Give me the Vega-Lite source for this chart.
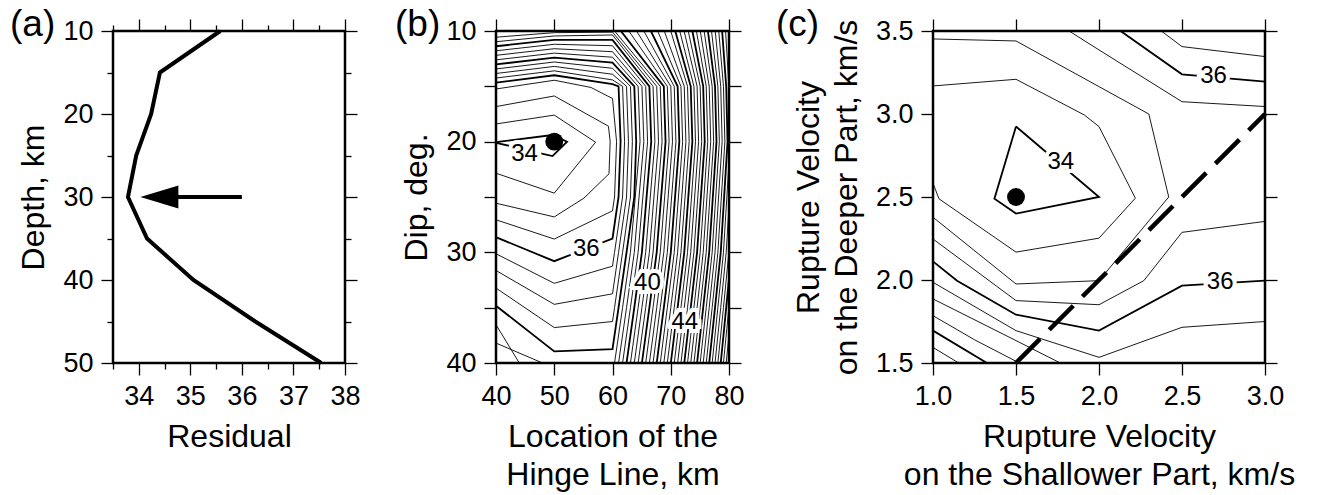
{
  "$schema": "https://vega.github.io/schema/vega-lite/v6.json",
  "background": "white",
  "padding": {"left": 8, "top": 4, "right": 4, "bottom": 4},
  "bounds": "flush",
  "spacing": 0,
  "config": {
    "font": "Liberation Sans",
    "view": {"stroke": "black", "strokeWidth": 2.5},
    "axis": {"domain": false, "grid": false, "tickColor": "black", "tickWidth": 1.3, "tickSize": 12, "labelColor": "black", "labelFont": "Liberation Sans", "labelFontSize": 27, "titleFont": "Liberation Sans", "titleFontSize": 32, "titleFontWeight": "normal", "titleColor": "black", "labelPadding": 8, "titlePadding": 12, "labelFlush": false, "labelOverlap": false, "titleLineHeight": 38},
    "title": {"font": "Liberation Sans", "fontSize": 37, "fontWeight": "normal", "color": "black", "anchor": "start", "frame": "group", "offset": 0, "baseline": "alphabetic"}
  },
  "datasets": {
    "resid": [{"r":35.58,"d":10},{"r":34.41,"d":15},{"r":34.24,"d":20},{"r":33.95,"d":25},{"r":33.79,"d":30},{"r":34.16,"d":35},{"r":35.06,"d":40},{"r":36.26,"d":45},{"r":37.54,"d":50}],
    "arrow": [{"x1":34.7,"x2":36.0,"hx":34.4,"y":30}],
    "bT": [
      {"k":"34.5","x":40,"y":18.4},{"k":"34.5","x":50,"y":17.6},{"k":"34.5","x":57.1,"y":20.05},{"k":"34.5","x":50,"y":24.65},{"k":"34.5","x":40,"y":22.85},
      {"k":"35","x":40,"y":16.83},{"k":"35","x":50,"y":15.87},{"k":"35","x":59.3,"y":18.6},{"k":"35","x":59.6,"y":20},{"k":"35","x":59.4,"y":22.9},{"k":"35","x":55.1,"y":25.1},{"k":"35","x":50,"y":26.8},{"k":"35","x":40,"y":25.56},
      {"k":"35.5","x":40,"y":15.24},{"k":"35.5","x":50,"y":14.45},{"k":"35.5","x":56.3,"y":15.1},{"k":"35.5","x":60,"y":16.1},{"k":"35.5","x":60.7,"y":20},{"k":"35.5","x":60.35,"y":25},{"k":"35.5","x":60,"y":26.25},{"k":"35.5","x":50,"y":28.8},{"k":"35.5","x":40,"y":27.06},
      {"k":"36.5","x":40,"y":14.25},{"k":"36.5","x":50,"y":13.6},{"k":"36.5","x":60,"y":14.42},{"k":"36.5","x":61.73,"y":15},{"k":"36.5","x":62.07,"y":20},{"k":"36.5","x":61.73,"y":25},{"k":"36.5","x":60.35,"y":30},{"k":"36.5","x":60,"y":31.25},{"k":"36.5","x":50,"y":32.8},{"k":"36.5","x":40,"y":30.13},
      {"k":"37","x":40,"y":13.84},{"k":"37","x":50,"y":13.2},{"k":"37","x":60,"y":13.91},{"k":"37","x":62.41,"y":15},{"k":"37","x":62.74,"y":20},{"k":"37","x":62.41,"y":25},{"k":"37","x":61.04,"y":30},{"k":"37","x":60,"y":33.75},{"k":"37","x":50,"y":34.7},{"k":"37","x":40,"y":31.64},
      {"k":"37.5","x":40,"y":13.43},{"k":"37.5","x":50,"y":12.8},{"k":"37.5","x":60,"y":13.37},{"k":"37.5","x":63.08,"y":15},{"k":"37.5","x":63.41,"y":20},{"k":"37.5","x":63.08,"y":25},{"k":"37.5","x":61.73,"y":30},{"k":"37.5","x":60.35,"y":35},{"k":"37.5","x":60,"y":36.25},{"k":"37.5","x":50,"y":36.8},{"k":"37.5","x":40,"y":33.23},
      {"k":"38.5","x":40,"y":12.61},{"k":"38.5","x":50,"y":12.0},{"k":"38.5","x":60,"y":12.37},{"k":"38.5","x":64.4,"y":15},{"k":"38.5","x":64.73,"y":20},{"k":"38.5","x":63.08,"y":30},{"k":"38.5","x":61.73,"y":35},{"k":"38.5","x":60.35,"y":40},
      {"k":"38.5b","x":40,"y":36.54},{"k":"38.5b","x":44,"y":40},
      {"k":"39","x":40,"y":12.2},{"k":"39","x":50,"y":11.6},{"k":"39","x":60,"y":11.87},{"k":"39","x":65.05,"y":15},{"k":"39","x":65.38,"y":20},{"k":"39","x":63.74,"y":30},{"k":"39","x":62.41,"y":35},{"k":"39","x":61.04,"y":40},
      {"k":"39b","x":40,"y":38.2},{"k":"39b","x":48,"y":40},
      {"k":"39.5","x":40,"y":11.79},{"k":"39.5","x":50,"y":11.2},{"k":"39.5","x":60,"y":11.33},{"k":"39.5","x":65.7,"y":15},{"k":"39.5","x":66.02,"y":20},{"k":"39.5","x":64.4,"y":30},{"k":"39.5","x":63.08,"y":35},{"k":"39.5","x":61.73,"y":40},
      {"k":"40.5","x":40,"y":10.97},{"k":"40.5","x":50,"y":10.45},{"k":"40.5","x":60,"y":10.36},{"k":"40.5","x":66.96,"y":15},{"k":"40.5","x":67.28,"y":20},{"k":"40.5","x":65.7,"y":30},{"k":"40.5","x":64.4,"y":35},{"k":"40.5","x":63.08,"y":40},
      {"k":"41","x":40,"y":10.56},{"k":"41","x":50,"y":10.15},{"k":"41","x":60,"y":10.1},{"k":"41","x":67.59,"y":15},{"k":"41","x":67.9,"y":20},{"k":"41","x":66.33,"y":30},{"k":"41","x":65.05,"y":35},{"k":"41","x":63.74,"y":40},
      {"k":"41.5","x":60.35,"y":10},{"k":"41.5","x":68.2,"y":15},{"k":"41.5","x":68.51,"y":20},{"k":"41.5","x":66.96,"y":30},{"k":"41.5","x":65.7,"y":35},{"k":"41.5","x":64.4,"y":40},
      {"k":"42.5","x":62.8,"y":10},{"k":"42.5","x":69.41,"y":15},{"k":"42.5","x":69.71,"y":20},{"k":"42.5","x":68.2,"y":30},{"k":"42.5","x":66.96,"y":35},{"k":"42.5","x":65.7,"y":40},
      {"k":"43","x":64.13,"y":10},{"k":"43","x":70.01,"y":15},{"k":"43","x":70.3,"y":20},{"k":"43","x":68.81,"y":30},{"k":"43","x":67.59,"y":35},{"k":"43","x":66.33,"y":40},
      {"k":"43.5","x":65.38,"y":10},{"k":"43.5","x":70.6,"y":15},{"k":"43.5","x":70.89,"y":20},{"k":"43.5","x":69.41,"y":30},{"k":"43.5","x":68.2,"y":35},{"k":"43.5","x":66.96,"y":40},
      {"k":"44.5","x":67.76,"y":10},{"k":"44.5","x":71.75,"y":15},{"k":"44.5","x":72.04,"y":20},{"k":"44.5","x":70.6,"y":30},{"k":"44.5","x":69.41,"y":35},{"k":"44.5","x":68.2,"y":40},
      {"k":"45","x":68.89,"y":10},{"k":"45","x":72.32,"y":15},{"k":"45","x":72.6,"y":20},{"k":"45","x":71.18,"y":30},{"k":"45","x":70.01,"y":35},{"k":"45","x":68.81,"y":40},
      {"k":"45.5","x":70.0,"y":10},{"k":"45.5","x":72.88,"y":15},{"k":"45.5","x":73.16,"y":20},{"k":"45.5","x":71.75,"y":30},{"k":"45.5","x":70.6,"y":35},{"k":"45.5","x":69.41,"y":40},
      {"k":"46.5","x":71.54,"y":10},{"k":"46.5","x":73.98,"y":15},{"k":"46.5","x":74.25,"y":20},{"k":"46.5","x":72.88,"y":30},{"k":"46.5","x":71.75,"y":35},{"k":"46.5","x":70.6,"y":40},
      {"k":"47","x":72.29,"y":10},{"k":"47","x":74.52,"y":15},{"k":"47","x":74.78,"y":20},{"k":"47","x":73.43,"y":30},{"k":"47","x":72.32,"y":35},{"k":"47","x":71.18,"y":40},
      {"k":"47.5","x":73.0,"y":10},{"k":"47.5","x":75.05,"y":15},{"k":"47.5","x":75.31,"y":20},{"k":"47.5","x":73.98,"y":30},{"k":"47.5","x":72.88,"y":35},{"k":"47.5","x":71.75,"y":40},
      {"k":"48.5","x":74.4,"y":10},{"k":"48.5","x":76.09,"y":15},{"k":"48.5","x":76.35,"y":20},{"k":"48.5","x":75.05,"y":30},{"k":"48.5","x":73.98,"y":35},{"k":"48.5","x":72.88,"y":40},
      {"k":"49","x":75.07,"y":10},{"k":"49","x":76.6,"y":15},{"k":"49","x":76.86,"y":20},{"k":"49","x":75.57,"y":30},{"k":"49","x":74.52,"y":35},{"k":"49","x":73.43,"y":40},
      {"k":"49.5","x":75.73,"y":10},{"k":"49.5","x":77.11,"y":15},{"k":"49.5","x":77.36,"y":20},{"k":"49.5","x":76.09,"y":30},{"k":"49.5","x":75.05,"y":35},{"k":"49.5","x":73.98,"y":40},
      {"k":"50.5","x":77.0,"y":10},{"k":"50.5","x":78.09,"y":15},{"k":"50.5","x":78.34,"y":20},{"k":"50.5","x":77.11,"y":30},{"k":"50.5","x":76.09,"y":35},{"k":"50.5","x":75.05,"y":40},
      {"k":"51","x":77.63,"y":10},{"k":"51","x":78.58,"y":15},{"k":"51","x":78.82,"y":20},{"k":"51","x":77.6,"y":30},{"k":"51","x":76.6,"y":35},{"k":"51","x":75.57,"y":40},
      {"k":"51.5","x":78.24,"y":10},{"k":"51.5","x":79.05,"y":15},{"k":"51.5","x":79.29,"y":20},{"k":"51.5","x":78.09,"y":30},{"k":"51.5","x":77.11,"y":35},{"k":"51.5","x":76.09,"y":40},
      {"k":"52.5","x":79.41,"y":10},{"k":"52.5","x":79.98,"y":15},{"k":"52.5","x":80.21,"y":20},{"k":"52.5","x":79.05,"y":30},{"k":"52.5","x":78.09,"y":35},{"k":"52.5","x":77.11,"y":40},
      {"k":"53","x":80.44,"y":15},{"k":"53","x":80.66,"y":20},{"k":"53","x":79.52,"y":30},{"k":"53","x":78.58,"y":35},{"k":"53","x":77.6,"y":40},
      {"k":"53.5","x":80.89,"y":15},{"k":"53.5","x":81.11,"y":20},{"k":"53.5","x":79.98,"y":30},{"k":"53.5","x":79.05,"y":35},{"k":"53.5","x":78.09,"y":40},
      {"k":"54.5","x":81.78,"y":15},{"k":"54.5","x":82.0,"y":20},{"k":"54.5","x":80.89,"y":30},{"k":"54.5","x":79.98,"y":35},{"k":"54.5","x":79.05,"y":40},
      {"k":"55","x":82.2,"y":15},{"k":"55","x":82.4,"y":20},{"k":"55","x":81.33,"y":30},{"k":"55","x":80.44,"y":35},{"k":"55","x":79.52,"y":40},
      {"k":"55.5","x":82.7,"y":15},{"k":"55.5","x":82.9,"y":20},{"k":"55.5","x":81.78,"y":30},{"k":"55.5","x":80.89,"y":35},{"k":"55.5","x":79.98,"y":40}
    ],
    "bB": [
      {"k":"34","x":40,"y":20.05},{"k":"34","x":49.7,"y":19.4},{"k":"34","x":52.2,"y":20.0},{"k":"34","x":49.7,"y":21.3},{"k":"34","x":47.5,"y":21.04},{"k":"34","x":42.5,"y":20.4},{"k":"34","x":40,"y":20.1},
      {"k":"36","x":40,"y":14.66},{"k":"36","x":50,"y":14.0},{"k":"36","x":60,"y":14.81},{"k":"36","x":61.04,"y":15},{"k":"36","x":61.39,"y":20},{"k":"36","x":61.04,"y":25},{"k":"36","x":60,"y":28.75},{"k":"36","x":50,"y":30.8},{"k":"36","x":40,"y":28.63},
      {"k":"38","x":40,"y":13.02},{"k":"38","x":50,"y":12.4},{"k":"38","x":60,"y":12.86},{"k":"38","x":63.74,"y":15},{"k":"38","x":64.07,"y":20},{"k":"38","x":63.74,"y":25},{"k":"38","x":62.41,"y":30},{"k":"38","x":61.04,"y":35},{"k":"38","x":60,"y":38.75},{"k":"38","x":50,"y":38.95},{"k":"38","x":40,"y":34.83},
      {"k":"40","x":40,"y":11.38},{"k":"40","x":50,"y":10.8},{"k":"40","x":60,"y":10.81},{"k":"40","x":66.33,"y":15},{"k":"40","x":66.65,"y":20},{"k":"40","x":65.05,"y":30},{"k":"40","x":63.74,"y":35},{"k":"40","x":62.41,"y":40},
      {"k":"42","x":61.43,"y":10},{"k":"42","x":68.81,"y":15},{"k":"42","x":69.11,"y":20},{"k":"42","x":67.59,"y":30},{"k":"42","x":66.33,"y":35},{"k":"42","x":65.05,"y":40},
      {"k":"44","x":66.59,"y":10},{"k":"44","x":71.18,"y":15},{"k":"44","x":71.47,"y":20},{"k":"44","x":70.01,"y":30},{"k":"44","x":68.81,"y":35},{"k":"44","x":67.59,"y":40},
      {"k":"46","x":70.77,"y":10},{"k":"46","x":73.43,"y":15},{"k":"46","x":73.71,"y":20},{"k":"46","x":72.32,"y":30},{"k":"46","x":71.18,"y":35},{"k":"46","x":70.01,"y":40},
      {"k":"48","x":73.71,"y":10},{"k":"48","x":75.57,"y":15},{"k":"48","x":75.83,"y":20},{"k":"48","x":74.52,"y":30},{"k":"48","x":73.43,"y":35},{"k":"48","x":72.32,"y":40},
      {"k":"50","x":76.38,"y":10},{"k":"50","x":77.6,"y":15},{"k":"50","x":77.85,"y":20},{"k":"50","x":76.6,"y":30},{"k":"50","x":75.57,"y":35},{"k":"50","x":74.52,"y":40},
      {"k":"52","x":78.82,"y":10},{"k":"52","x":79.52,"y":15},{"k":"52","x":79.75,"y":20},{"k":"52","x":78.58,"y":30},{"k":"52","x":77.6,"y":35},{"k":"52","x":76.6,"y":40},
      {"k":"54","x":81.33,"y":15},{"k":"54","x":81.56,"y":20},{"k":"54","x":80.44,"y":30},{"k":"54","x":79.52,"y":35},{"k":"54","x":78.58,"y":40}
    ],
    "bL": [{"t":"34","x":44.9,"y":21.1},{"t":"36","x":55.5,"y":29.7},{"t":"40","x":66.0,"y":32.8},{"t":"44","x":72.4,"y":36.3}],
    "bP": [{"x":50,"y":20}],
    "cT": [
      {"k":"34.5","x":1.0,"y":3.169},{"k":"34.5","x":1.5,"y":3.209},{"k":"34.5","x":1.912,"y":2.994},{"k":"34.5","x":2.0,"y":2.924},{"k":"34.5","x":2.219,"y":2.493},{"k":"34.5","x":2.0,"y":2.252},{"k":"34.5","x":1.5,"y":2.168},{"k":"34.5","x":1.036,"y":2.489},{"k":"34.5","x":1.0,"y":2.583},
      {"k":"35","x":1.0,"y":3.452},{"k":"35","x":1.5,"y":3.44},{"k":"35","x":2.3,"y":3.0},{"k":"35","x":2.42,"y":2.5},{"k":"35","x":2.0,"y":1.996},{"k":"35","x":1.5,"y":1.976},{"k":"35","x":1.0,"y":2.378},
      {"k":"35.5u","x":1.82,"y":3.5},{"k":"35.5u","x":2.0,"y":3.386},{"k":"35.5u","x":2.5,"y":3.074},{"k":"35.5u","x":3.0,"y":3.045},
      {"k":"35.5l","x":1.0,"y":2.247},{"k":"35.5l","x":1.5,"y":1.876},{"k":"35.5l","x":2.0,"y":1.851},{"k":"35.5l","x":2.27,"y":1.996},{"k":"35.5l","x":2.5,"y":2.287},{"k":"35.5l","x":3.0,"y":2.353},
      {"k":"36.5u","x":2.375,"y":3.5},{"k":"36.5u","x":2.5,"y":3.406},{"k":"36.5u","x":3.0,"y":3.346},
      {"k":"36.5l","x":1.0,"y":1.986},{"k":"36.5l","x":1.5,"y":1.695},{"k":"36.5l","x":2.0,"y":1.534},{"k":"36.5l","x":2.5,"y":1.715},{"k":"36.5l","x":3.0,"y":1.75},
      {"k":"37","x":1.0,"y":1.886},{"k":"37","x":1.5,"y":1.635},{"k":"37","x":1.767,"y":1.5},
      {"k":"37.5","x":1.0,"y":1.785},{"k":"37.5","x":1.25,"y":1.64},{"k":"37.5","x":1.52,"y":1.5},
      {"k":"38.5","x":1.0,"y":1.594},{"k":"38.5","x":1.155,"y":1.5}
    ],
    "cB": [
      {"k":"34","x":1.5,"y":2.925},{"k":"34","x":2.0,"y":2.5},{"k":"34","x":1.5,"y":2.4},{"k":"34","x":1.37,"y":2.49},{"k":"34","x":1.5,"y":2.925},
      {"k":"36u","x":2.13,"y":3.5},{"k":"36u","x":2.5,"y":3.239},{"k":"36u","x":3.0,"y":3.195},
      {"k":"36l","x":1.0,"y":2.112},{"k":"36l","x":1.145,"y":1.996},{"k":"36l","x":1.5,"y":1.791},{"k":"36l","x":2.0,"y":1.695},{"k":"36l","x":2.5,"y":1.966},{"k":"36l","x":3.0,"y":1.996},
      {"k":"38","x":1.0,"y":1.695},{"k":"38","x":1.325,"y":1.5}
    ],
    "cL": [{"t":"34","x":1.77,"y":2.71},{"t":"36","x":2.69,"y":3.23},{"t":"36","x":2.73,"y":1.99}],
    "cD": [{"x":1.5,"y":1.5},{"x":3.0,"y":3.0}],
    "cP": [{"x":1.5,"y":2.5}]
  },
  "hconcat": [
    {
      "width": 232, "height": 332,
      "title": {"text": "(a)", "dx": -103, "dy": 31},
      "resolve": {"axis": {"x": "independent", "y": "independent"}},
      "layer": [
        {
          "data": {"name": "resid"},
          "mark": {"type": "line", "color": "black", "strokeWidth": 4, "strokeJoin": "miter"},
          "encoding": {
            "x": {"field": "r", "type": "quantitative", "scale": {"domain": [33.5, 38], "nice": false, "zero": false},
                  "axis": {"orient": "bottom", "values": [33.5,34,34.5,35,35.5,36,36.5,37,37.5,38], "labelExpr": "datum.value % 1 === 0 ? '' + datum.value : ''", "tickSize": {"condition": {"test": "datum.value % 1 === 0", "value": 12}, "value": 6}, "title": "Residual"}},
            "y": {"field": "d", "type": "quantitative", "scale": {"domain": [10, 50], "reverse": true, "nice": false, "zero": false},
                  "axis": {"orient": "left", "values": [10,15,20,25,30,35,40,45,50], "labelExpr": "datum.value % 10 === 0 ? datum.label : ''", "tickSize": {"condition": {"test": "datum.value % 10 === 0", "value": 12}, "value": 6}, "title": "Depth, km"}},
            "order": {"value": null}
          }
        },
        {
          "data": {"name": "arrow"},
          "mark": {"type": "rule", "color": "black", "strokeWidth": 4},
          "encoding": {
            "x": {"field": "x1", "type": "quantitative", "scale": {"domain": [33.5, 38], "nice": false, "zero": false},
                  "axis": {"orient": "top", "values": [33.5,34,34.5,35,35.5,36,36.5,37,37.5,38], "labels": false, "tickSize": {"condition": {"test": "datum.value % 1 === 0", "value": 12}, "value": 6}, "title": null}},
            "x2": {"field": "x2"},
            "y": {"field": "y", "type": "quantitative", "scale": {"domain": [10, 50], "reverse": true, "nice": false, "zero": false},
                  "axis": {"orient": "right", "values": [10,15,20,25,30,35,40,45,50], "labels": false, "tickSize": {"condition": {"test": "datum.value % 10 === 0", "value": 12}, "value": 6}, "title": null}}
          }
        },
        {
          "data": {"name": "arrow"},
          "mark": {"type": "point", "shape": "M-1,0L1,-0.6L1,0.6Z", "filled": true, "size": 1444, "color": "black", "opacity": 1},
          "encoding": {
            "x": {"field": "hx", "type": "quantitative", "axis": null},
            "y": {"field": "y", "type": "quantitative", "axis": null}
          }
        }
      ]
    },
    {"width": 151, "height": 332, "view": {"stroke": null}, "data": {"values": [{}]}, "mark": {"type": "point", "opacity": 0}, "encoding": {}},
    {
      "width": 233, "height": 332,
      "title": {"text": "(b)", "dx": -101, "dy": 31},
      "resolve": {"axis": {"x": "independent", "y": "independent"}},
      "layer": [
        {
          "data": {"name": "bT"},
          "mark": {"type": "line", "color": "black", "strokeWidth": 0.9, "clip": true},
          "encoding": {
            "x": {"field": "x", "type": "quantitative", "scale": {"domain": [40, 80], "nice": false, "zero": false},
                  "axis": {"orient": "bottom", "values": [40,50,60,70,80], "title": ["Location of the", "Hinge Line, km"]}},
            "y": {"field": "y", "type": "quantitative", "scale": {"domain": [10, 40], "reverse": true, "nice": false, "zero": false},
                  "axis": {"orient": "left", "values": [10,15,20,25,30,35,40], "labelExpr": "datum.value % 10 === 0 ? datum.label : ''", "title": "Dip, deg."}},
            "detail": {"field": "k"},
            "order": {"value": null}
          }
        },
        {
          "data": {"name": "bB"},
          "mark": {"type": "line", "color": "black", "strokeWidth": 1.8, "clip": true},
          "encoding": {
            "x": {"field": "x", "type": "quantitative", "scale": {"domain": [40, 80], "nice": false, "zero": false},
                  "axis": {"orient": "top", "values": [40,50,60,70,80], "labels": false, "title": null}},
            "y": {"field": "y", "type": "quantitative", "scale": {"domain": [10, 40], "reverse": true, "nice": false, "zero": false},
                  "axis": {"orient": "right", "values": [10,15,20,25,30,35,40], "labels": false, "title": null}},
            "detail": {"field": "k"},
            "order": {"value": null}
          }
        },
        {
          "data": {"name": "bL"},
          "mark": {"type": "text", "fontSize": 24, "color": "white", "stroke": "white", "strokeWidth": 8, "baseline": "middle", "align": "center"},
          "encoding": {"x": {"field": "x", "type": "quantitative", "axis": null}, "y": {"field": "y", "type": "quantitative", "axis": null}, "text": {"field": "t"}}
        },
        {
          "data": {"name": "bL"},
          "mark": {"type": "text", "fontSize": 24, "color": "black", "baseline": "middle", "align": "center"},
          "encoding": {"x": {"field": "x", "type": "quantitative", "axis": null}, "y": {"field": "y", "type": "quantitative", "axis": null}, "text": {"field": "t"}}
        },
        {
          "data": {"name": "bP"},
          "mark": {"type": "point", "shape": "circle", "filled": true, "size": 320, "color": "black", "opacity": 1},
          "encoding": {"x": {"field": "x", "type": "quantitative", "axis": null}, "y": {"field": "y", "type": "quantitative", "axis": null}}
        }
      ]
    },
    {"width": 204, "height": 332, "view": {"stroke": null}, "data": {"values": [{}]}, "mark": {"type": "point", "opacity": 0}, "encoding": {}},
    {
      "width": 332, "height": 332,
      "title": {"text": "(c)", "dx": -157, "dy": 31},
      "resolve": {"axis": {"x": "independent", "y": "independent"}},
      "layer": [
        {
          "data": {"name": "cT"},
          "mark": {"type": "line", "color": "black", "strokeWidth": 0.9, "clip": true},
          "encoding": {
            "x": {"field": "x", "type": "quantitative", "scale": {"domain": [1, 3], "nice": false, "zero": false},
                  "axis": {"orient": "bottom", "values": [1,1.5,2,2.5,3], "format": ".1f", "title": ["Rupture Velocity", "on the Shallower Part, km/s"]}},
            "y": {"field": "y", "type": "quantitative", "scale": {"domain": [1.5, 3.5], "nice": false, "zero": false},
                  "axis": {"orient": "left", "values": [1.5,2,2.5,3,3.5], "format": ".1f", "title": ["Rupture Velocity", "on the Deeper Part, km/s"]}},
            "detail": {"field": "k"},
            "order": {"value": null}
          }
        },
        {
          "data": {"name": "cB"},
          "mark": {"type": "line", "color": "black", "strokeWidth": 1.8, "clip": true},
          "encoding": {
            "x": {"field": "x", "type": "quantitative", "scale": {"domain": [1, 3], "nice": false, "zero": false},
                  "axis": {"orient": "top", "values": [1,1.5,2,2.5,3], "labels": false, "title": null}},
            "y": {"field": "y", "type": "quantitative", "scale": {"domain": [1.5, 3.5], "nice": false, "zero": false},
                  "axis": {"orient": "right", "values": [1.5,2,2.5,3,3.5], "labels": false, "title": null}},
            "detail": {"field": "k"},
            "order": {"value": null}
          }
        },
        {
          "data": {"name": "cD"},
          "mark": {"type": "line", "color": "black", "strokeWidth": 4.5, "strokeDash": [34, 13]},
          "encoding": {"x": {"field": "x", "type": "quantitative", "axis": null}, "y": {"field": "y", "type": "quantitative", "axis": null}, "order": {"value": null}}
        },
        {
          "data": {"name": "cL"},
          "mark": {"type": "text", "fontSize": 24, "color": "white", "stroke": "white", "strokeWidth": 8, "baseline": "middle", "align": "center"},
          "encoding": {"x": {"field": "x", "type": "quantitative", "axis": null}, "y": {"field": "y", "type": "quantitative", "axis": null}, "text": {"field": "t"}}
        },
        {
          "data": {"name": "cL"},
          "mark": {"type": "text", "fontSize": 24, "color": "black", "baseline": "middle", "align": "center"},
          "encoding": {"x": {"field": "x", "type": "quantitative", "axis": null}, "y": {"field": "y", "type": "quantitative", "axis": null}, "text": {"field": "t"}}
        },
        {
          "data": {"name": "cP"},
          "mark": {"type": "point", "shape": "circle", "filled": true, "size": 320, "color": "black", "opacity": 1},
          "encoding": {"x": {"field": "x", "type": "quantitative", "axis": null}, "y": {"field": "y", "type": "quantitative", "axis": null}}
        }
      ]
    }
  ]
}
